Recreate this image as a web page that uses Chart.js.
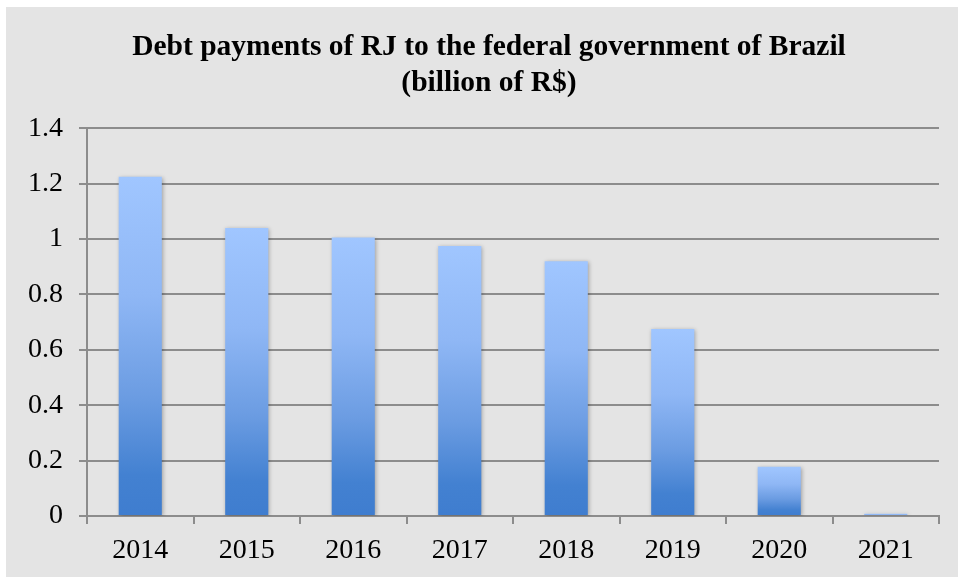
<!DOCTYPE html>
<html>
<head>
<meta charset="utf-8">
<script src="https://cdn.jsdelivr.net/npm/chart.js@4/dist/chart.umd.min.js"></script>
<style>
  html, body { margin: 0; padding: 0; background: #ffffff; }
  #wrap { position: absolute; left: 6px; top: 7px; width: 952px; height: 570px; background: #e4e4e4; }
</style>
</head>
<body>
<div id="wrap"><canvas id="debtChart" width="952" height="570"></canvas></div>
<script>
var years = ['2014', '2015', '2016', '2017', '2018', '2019', '2020', '2021'];
var payments = [1.225, 1.04, 1.005, 0.975, 0.92, 0.675, 0.178, 0.008];
var titleLines = ['Debt payments of RJ to the federal government of Brazil', '(billion of R$)'];

var debtCanv = document.getElementById("debtChart");
var gridGray = '#8c8c8c';

// each bar gets its own light-to-dark gradient, top to base
function barGradient(context) {
  var chart = context.chart;
  if (!chart.chartArea || !chart.scales.y) return '#6f9fe2';
  var y = chart.scales.y;
  var top = y.getPixelForValue(context.raw);
  var base = y.getPixelForValue(0);
  if (base - top < 2) return '#4a85d3';
  var g = chart.ctx.createLinearGradient(0, top, 0, base);
  g.addColorStop(0, '#a0c6ff');
  g.addColorStop(0.35, '#8fb7f5');
  g.addColorStop(0.65, '#6b9ce2');
  g.addColorStop(0.88, '#4381d1');
  g.addColorStop(1, '#3f7dcf');
  return g;
}

// soft drop shadow behind the bars
var barShadow = {
  id: 'barShadow',
  beforeDatasetsDraw: function(chart) {
    var ctx = chart.ctx;
    ctx.save();
    ctx.shadowColor = 'rgba(0,0,0,0.30)';
    ctx.shadowBlur = 4;
    ctx.shadowOffsetX = 1;
    ctx.shadowOffsetY = 1;
  },
  afterDatasetsDraw: function(chart) {
    chart.ctx.restore();
  }
};

// centre the title over the plot area instead of the whole canvas
var titleOverPlot = {
  id: 'titleOverPlot',
  afterLayout: function(chart) {
    if (chart.titleBlock) {
      chart.titleBlock.left = 33;
    }
  }
};

var debtPlot = new Chart(debtCanv, {
  type: 'bar',
  data: {
    labels: years,
    datasets: [{
      label: 'Debt payments',
      data: payments,
      backgroundColor: barGradient,
      borderWidth: 0,
      barPercentage: 0.405,
      categoryPercentage: 1
    }]
  },
  options: {
    responsive: false,
    animation: false,
    layout: { padding: { left: 0, right: 19, top: 0, bottom: 0 } },
    plugins: {
      legend: { display: false },
      tooltip: { enabled: false },
      title: {
        display: true,
        text: titleLines,
        color: '#000000',
        font: { family: 'Liberation Serif', size: 29.5, weight: 'bold', lineHeight: 1.24 },
        padding: { top: 22, bottom: 26 }
      }
    },
    scales: {
      x: {
        grid: { display: true, drawOnChartArea: false, drawTicks: true, tickLength: 8, color: gridGray, lineWidth: 2, offset: true },
        border: { display: true, color: gridGray, width: 2 },
        ticks: { color: '#000000', font: { family: 'Liberation Serif', size: 28 }, padding: 10, maxRotation: 0 },
        afterFit: function(scale) { scale.height = 61; }
      },
      y: {
        min: 0,
        max: 1.4,
        grid: { color: gridGray, lineWidth: 2, tickLength: 8 },
        border: { display: true, color: gridGray, width: 2 },
        ticks: {
          stepSize: 0.2,
          color: '#000000',
          font: { family: 'Liberation Serif', size: 28 },
          padding: 16,
          callback: function(v) { return String(+v.toFixed(1)); }
        },
        afterFit: function(scale) { scale.width = 81; }
      }
    }
  },
  plugins: [barShadow, titleOverPlot]
});
</script>
</body>
</html>
